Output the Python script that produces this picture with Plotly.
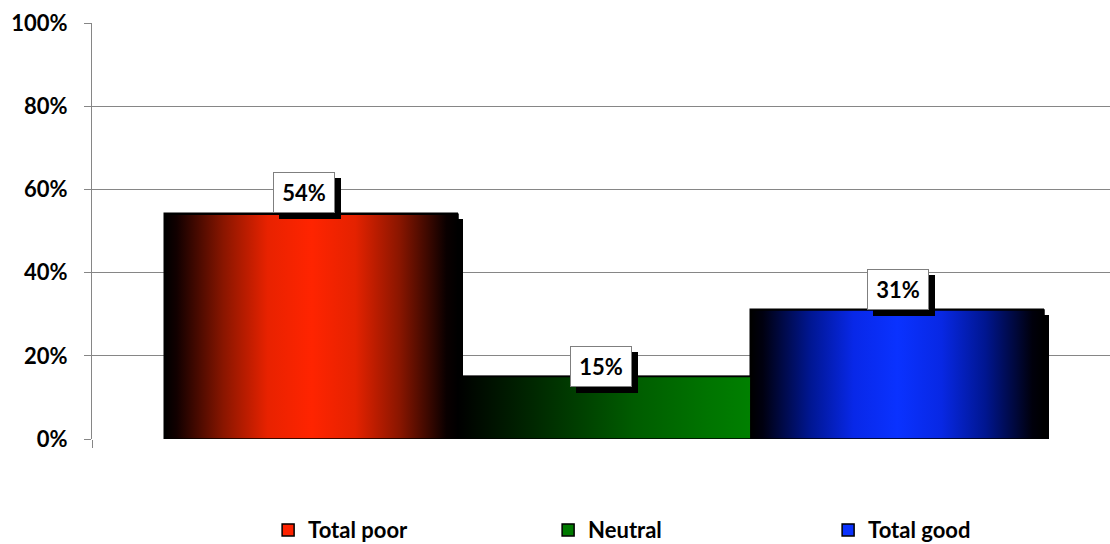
import plotly.graph_objects as go

categories = ["Total poor", "Neutral", "Total good"]
values = [54, 15, 31]
label_texts = ["54%", "15%", "31%"]
y_ticks = [0, 20, 40, 60, 80, 100]
y_tick_labels = ["0%", "20%", "40%", "60%", "80%", "100%"]

mid_colors = ["#ff2200", "#007a00", "#0a32ff"]
gradients = [
    [[0, "#000000"], [0.04, "#120000"], [0.2, "#8a1600"], [0.35, "#e82200"], [0.5, "#ff2400"],
     [0.65, "#e42200"], [0.8, "#8a1600"], [0.96, "#0a0000"], [1, "#000000"]],
    [[0, "#000000"], [0.05, "#000800"], [0.3, "#002e00"], [0.6, "#005c00"], [0.85, "#007400"], [1, "#008000"]],
    [[0, "#000000"], [0.04, "#000010"], [0.2, "#001690"], [0.35, "#0828e8"], [0.5, "#0a32ff"],
     [0.65, "#0828e4"], [0.8, "#001690"], [0.96, "#00000c"], [1, "#000000"]],
]

FONT = "Lato"
plot_left, plot_right, plot_top, plot_bottom = 92, 1110, 23, 439
bar_left_px, bar_right_px = 165, 1044
px_per_unit = (bar_right_px - bar_left_px) / len(categories)
x_min = -0.5 - (bar_left_px - plot_left) / px_per_unit
x_max = len(categories) - 0.5 + (plot_right - bar_right_px) / px_per_unit
px_per_pct = (plot_bottom - plot_top) / 100.0
shadow_dx = 5 / px_per_unit
shadow_dy = 5 / px_per_pct

xs = list(range(len(categories)))
fig = go.Figure()

# shadows
fig.add_trace(go.Bar(x=xs, y=values, base=[-shadow_dy] * len(values), width=1,
                     offset=-0.5 + shadow_dx, marker=dict(color="black", line=dict(width=0)),
                     showlegend=False, hoverinfo="skip"))

# main bars (legend entries)
for i, (cat, v) in enumerate(zip(categories, values)):
    fig.add_trace(go.Bar(x=[i], y=[v], width=1, name=cat,
                         marker=dict(color=mid_colors[i], line=dict(color="black", width=1.5))))

# gradient overlays
for i, v in enumerate(values):
    fig.add_trace(go.Scatter(
        x=[i - 0.5, i + 0.5, i + 0.5, i - 0.5, i - 0.5],
        y=[0, 0, v, v, 0], mode="lines", fill="toself",
        fillgradient=dict(type="horizontal", colorscale=gradients[i]),
        line=dict(color="black", width=1.5), showlegend=False, hoverinfo="skip"))

label_yshift = [1, -10, 0]
label_xshift = [-8, -4, 0]
for i, (v, t) in enumerate(zip(values, label_texts)):
    common = dict(x=i, y=v, xref="x", yref="y", yanchor="bottom", showarrow=False,
                  width=48, height=27, borderpad=6, borderwidth=1)
    # drop shadow box
    fig.add_annotation(**common, text="\u00a0", xshift=label_xshift[i] + 6,
                       yshift=label_yshift[i] - 6,
                       font=dict(family=FONT, size=22, color="black"),
                       bgcolor="black", bordercolor="black")
    fig.add_annotation(**common, text=t, xshift=label_xshift[i], yshift=label_yshift[i],
                       font=dict(family=FONT, size=22, color="black", weight="bold"),
                       bgcolor="white", bordercolor="#7f7f7f")

fig.update_layout(
    width=1110, height=544,
    margin=dict(l=plot_left, r=1110 - plot_right, t=plot_top, b=544 - plot_bottom,
                autoexpand=False),
    paper_bgcolor="white", plot_bgcolor="white",
    barmode="overlay", bargap=0,
    font=dict(family=FONT, color="black"),
    xaxis=dict(range=[x_min, x_max], showgrid=False, zeroline=False, showline=False,
               tickvals=[x_min], ticks="outside", ticklen=8, tickcolor="#868686",
               showticklabels=False, fixedrange=True),
    yaxis=dict(range=[0, 100], tickvals=y_ticks, ticktext=y_tick_labels,
               showgrid=True, gridcolor="#868686", gridwidth=1,
               showline=True, linecolor="#868686", linewidth=1,
               ticks="outside", ticklen=7, tickcolor="#868686", ticklabelstandoff=12,
               tickfont=dict(family=FONT, size=22, color="black", weight="bold"),
               zeroline=False, fixedrange=True),
    legend=dict(orientation="h", x=0.173, xanchor="left", y=-0.219, yanchor="middle",
                font=dict(family=FONT, size=22, color="black", weight="bold"),
                entrywidth=235, itemwidth=30, bgcolor="rgba(0,0,0,0)"),
    showlegend=True,
)

fig.write_html("out.html")
